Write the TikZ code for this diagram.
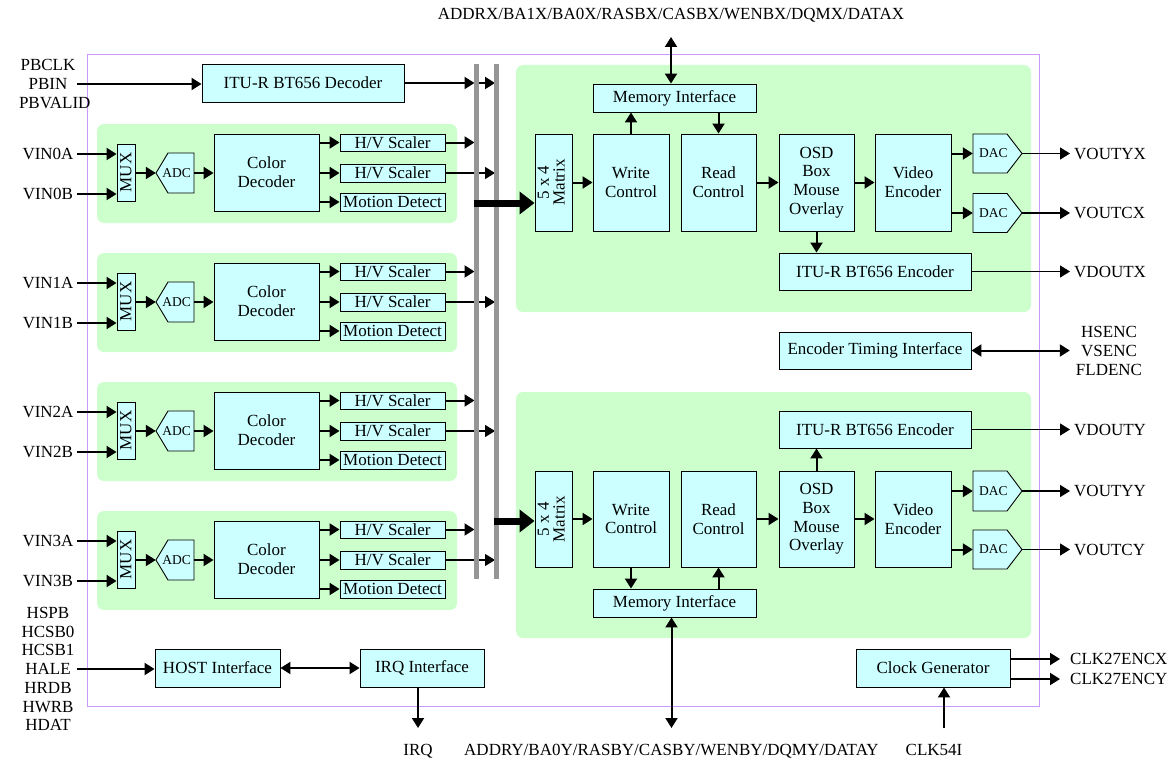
\documentclass[tikz,border=0pt]{standalone}
\usepackage{fontspec}
\usepackage{graphicx}
\setmainfont{Liberation Serif}
\usetikzlibrary{arrows.meta}
\definecolor{boxfill}{RGB}{204,255,255}
\definecolor{grp}{RGB}{204,255,204}
\definecolor{chipline}{RGB}{204,153,255}
\definecolor{busgray}{RGB}{150,150,150}
\newcommand\mainfs{\fontsize{17}{18.7}\selectfont}
\newcommand\smallfs{\fontsize{13.5}{15}\selectfont}
\begin{document}
\begin{tikzpicture}[x=1pt,y=-1pt,
  every node/.style={font=\mainfs},
  blk/.style={draw=black, line width=0.9pt, fill=boxfill, inner sep=0pt, align=center},
  grn/.style={fill=grp, rounded corners=7pt},
  arr/.style={line width=2pt, -{Triangle[length=10pt,width=12pt]}},
  tharr/.style={line width=1.4pt, -{Triangle[length=10pt,width=12pt]}},
  darr/.style={line width=2pt, {Triangle[length=10pt,width=12pt]}-{Triangle[length=10pt,width=12pt]}},
  tarr/.style={line width=7pt, -{Triangle[length=15pt,width=22pt]}},
  bus/.style={line width=5pt, draw=busgray},
  llbl/.style={text width=58pt, align=center, inner sep=0pt},
  rlbl/.style={anchor=west, inner xsep=4pt, inner ysep=0pt},
  toplbl/.style={anchor=south, inner sep=0pt, text height=12pt, text depth=3pt, outer ysep=14pt},
  botlbl/.style={anchor=north, inner sep=0pt, text height=12pt, text depth=3pt, outer ysep=15pt},
  dactxt/.style={inner sep=0pt, minimum width=49pt, minimum height=39pt, font=\smallfs}
]
\useasboundingbox (0,0) rectangle (1172,760);

% chip outline
\draw[chipline, line width=1pt] (87,55) rectangle (1039,706);

% green regions
\fill[grn] (516,65) rectangle (1031,312);
\fill[grn] (516,392) rectangle (1031,638);

% bus coordinates
\coordinate (b1t) at (476,64);
\coordinate (b1b) at (476,579);
\coordinate (b2t) at (496,64);
\coordinate (b2b) at (496,579);

% playback decoder
\node[blk, minimum width=202pt, minimum height=38pt] (dec) at (303,83) {ITU-R BT656 Decoder};
\node[llbl] (pb) at (48,84) {PBCLK\\PBIN\\PBVALID};
\draw[arr] (pb.east) -- (dec.west |- pb.east);
\draw[arr, shorten >=1.5pt] (dec.east) -- (dec.east -| b1t);
\draw[arr, shorten >=1pt] (dec.east -| b1t) -- (dec.east -| b2t);

% input channels
\foreach \i/\Y in {0/124,1/253,2/382,3/511}{
  \fill[grn] (97,\Y) rectangle (457,\Y+99);
  \node[blk, minimum width=18pt, minimum height=57pt] (mux\i) at (126,\Y+48.5) {\rotatebox{90}{MUX}};
  \draw[blk] (156,\Y+49) -- (168,\Y+29) -- (194,\Y+29) -- (194,\Y+69) -- (168,\Y+69) -- cycle;
  \node[inner sep=0pt, minimum width=38pt, minimum height=40pt, font=\smallfs] (adc\i) at (175,\Y+49) {\makebox[38pt][r]{ADC\hspace{3pt}}};
  \node[blk, minimum width=105pt, minimum height=77pt] (cd\i) at (266.5,\Y+48.5) {Color\\Decoder};
  \node[blk, minimum width=105pt, minimum height=17pt] (sa\i) at (392.5,\Y+18.5) {H/V Scaler};
  \node[blk, minimum width=105pt, minimum height=18pt] (sb\i) at (392.5,\Y+49) {H/V Scaler};
  \node[blk, minimum width=105pt, minimum height=18pt] (md\i) at (392.5,\Y+78) {Motion Detect};
  \node[llbl] (vina\i) at (48,\Y+30) {VIN\i A};
  \node[llbl] (vinb\i) at (48,\Y+70) {VIN\i B};
  \draw[arr] (vina\i.east) -- (mux\i.west |- vina\i.east);
  \draw[arr] (vinb\i.east) -- (mux\i.west |- vinb\i.east);
  \draw[arr] (mux\i.east |- adc\i.west) -- (adc\i.west);
  \draw[arr] (adc\i.east) -- (cd\i.west |- adc\i.east);
  \draw[arr] (cd\i.east |- sa\i.west) -- (sa\i.west);
  \draw[arr] (cd\i.east |- sb\i.west) -- (sb\i.west);
  \draw[arr] (cd\i.east |- md\i.west) -- (md\i.west);
  \draw[arr, shorten >=1.5pt] (sa\i.east) -- (sa\i.east -| b1t);
  \draw[tharr, shorten >=1pt] (sb\i.east) -- (sb\i.east -| b2t);
}

% ---------- upper output path (X)
\node[blk, minimum width=163pt, minimum height=28pt] (memx) at (674.5,98) {Memory Interface};
\node[blk, minimum width=37pt, minimum height=97pt] (matx) at (553.5,182.5) {\rotatebox{90}{\def\arraystretch{0.8}\begin{tabular}{@{}c@{}}5 x 4\\Matrix\end{tabular}}};
\node[blk, minimum width=76pt, minimum height=97pt] (wrx) at (631,182.5) {Write\\Control};
\node[blk, minimum width=75pt, minimum height=97pt] (rdx) at (718.5,182.5) {Read\\Control};
\node[blk, minimum width=75pt, minimum height=97pt] (osdx) at (816.5,182.5) {OSD\\Box\\Mouse\\Overlay};
\node[blk, minimum width=76pt, minimum height=97pt] (vex) at (913,182.5) {Video\\Encoder};
\draw[blk] (973,134) -- (1007,134) -- (1022,153.5) -- (1007,173) -- (973,173) -- cycle;
\node[dactxt] (dac1x) at (997.5,153.5) {\makebox[49pt][l]{\hspace{6pt}DAC}};
\draw[blk] (973,193.5) -- (1007,193.5) -- (1022,213) -- (1007,232.5) -- (973,232.5) -- cycle;
\node[dactxt] (dac2x) at (997.5,213) {\makebox[49pt][l]{\hspace{6pt}DAC}};
\node[blk, minimum width=192pt, minimum height=37pt] (encx) at (875,271.5) {ITU-R BT656 Encoder};

\node[toplbl] (addrx) at (671,37) {ADDRX/BA1X/BA0X/RASBX/CASBX/WENBX/DQMX/DATAX};
\node[rlbl] (voutyx) at (1070,154) {VOUTYX};
\node[rlbl] (voutcx) at (1070,213) {VOUTCX};
\node[rlbl] (vdoutx) at (1070,271.5) {VDOUTX};

\draw[darr] (addrx.south) -- (addrx.south |- memx.north);
\draw[arr] (wrx.north) -- (wrx.north |- memx.south);
\draw[arr] (memx.south -| rdx.north) -- (rdx.north);
\draw[arr] (matx.east |- wrx.west) -- (wrx.west);
\draw[arr] (rdx.east) -- (osdx.west);
\draw[arr] (osdx.east) -- (vex.west);
\draw[arr] (vex.east |- dac1x.west) -- (dac1x.west);
\draw[arr] (vex.east |- dac2x.west) -- (dac2x.west);
\draw[tharr] (dac1x.east) -- (voutyx.west |- dac1x.east);
\draw[tharr] (dac2x.east) -- (voutcx.west |- dac2x.east);
\draw[arr] (osdx.south) -- (osdx.south |- encx.north);
\draw[tharr] (encx.east) -- (vdoutx.west |- encx.east);

% encoder timing
\node[blk, minimum width=192pt, minimum height=37pt] (eti) at (875,350.5) {Encoder Timing Interface};
\node[text width=70pt, align=center, inner xsep=4pt, inner ysep=0pt] (hsenc) at (1109,351) {HSENC\\VSENC\\FLDENC};
\draw[darr] (eti.east) -- (hsenc.west |- eti.east);

% ---------- lower output path (Y)
\node[blk, minimum width=192pt, minimum height=37pt] (ency) at (875,429.5) {ITU-R BT656 Encoder};
\node[blk, minimum width=37pt, minimum height=96pt] (maty) at (553.5,519) {\rotatebox{90}{\def\arraystretch{0.8}\begin{tabular}{@{}c@{}}5 x 4\\Matrix\end{tabular}}};
\node[blk, minimum width=76pt, minimum height=96pt] (wry) at (631,519) {Write\\Control};
\node[blk, minimum width=75pt, minimum height=96pt] (rdy) at (718.5,519) {Read\\Control};
\node[blk, minimum width=75pt, minimum height=96pt] (osdy) at (816.5,519) {OSD\\Box\\Mouse\\Overlay};
\node[blk, minimum width=76pt, minimum height=96pt] (vey) at (913,519) {Video\\Encoder};
\draw[blk] (973,471) -- (1007,471) -- (1022,491) -- (1007,511) -- (973,511) -- cycle;
\node[dactxt] (dac1y) at (997.5,491) {\makebox[49pt][l]{\hspace{6pt}DAC}};
\draw[blk] (973,530) -- (1007,530) -- (1022,549.5) -- (1007,569) -- (973,569) -- cycle;
\node[dactxt] (dac2y) at (997.5,549.5) {\makebox[49pt][l]{\hspace{6pt}DAC}};
\node[blk, minimum width=163pt, minimum height=28pt] (memy) at (674.5,603) {Memory Interface};

\node[rlbl] (vdouty) at (1070,429.5) {VDOUTY};
\node[rlbl] (voutyy) at (1070,491) {VOUTYY};
\node[rlbl] (voutcy) at (1070,549.5) {VOUTCY};
\node[botlbl] (addry) at (671.5,728) {ADDRY/BA0Y/RASBY/CASBY/WENBY/DQMY/DATAY};

\draw[arr] (wry.south) -- (wry.south |- memy.north);
\draw[arr] (memy.north -| rdy.south) -- (rdy.south);
\draw[arr] (maty.east |- wry.west) -- (wry.west);
\draw[arr] (rdy.east) -- (osdy.west);
\draw[arr] (osdy.east) -- (vey.west);
\draw[arr] (vey.east |- dac1y.west) -- (dac1y.west);
\draw[arr] (vey.east |- dac2y.west) -- (dac2y.west);
\draw[tharr] (dac1y.east) -- (voutyy.west |- dac1y.east);
\draw[tharr] (dac2y.east) -- (voutcy.west |- dac2y.east);
\draw[arr] (osdy.north) -- (osdy.north |- ency.south);
\draw[tharr] (ency.east) -- (vdouty.west |- ency.east);
\draw[darr] (memy.south -| addry.north) -- (addry.north);

% ---------- host / irq
\node[blk, minimum width=125pt, minimum height=38pt] (host) at (217.5,668) {HOST Interface};
\node[blk, minimum width=124pt, minimum height=38pt] (irq) at (422,668) {IRQ Interface};
\node[llbl] (hspb) at (48,669) {HSPB\\HCSB0\\HCSB1\\HALE\\HRDB\\HWRB\\HDAT};
\node[botlbl] (irqlab) at (418,728) {IRQ};
\draw[arr] (hspb.east) -- (host.west |- hspb.east);
\draw[darr] (host.east) -- (irq.west);
\draw[arr] (irq.south -| irqlab.north) -- (irqlab.north);

% ---------- clock
\node[blk, minimum width=154pt, minimum height=38pt] (clk) at (933,668) {Clock Generator};
\node[anchor=west, inner xsep=10pt, inner ysep=0pt] (ck1) at (1060,659) {CLK27ENCX};
\node[anchor=west, inner xsep=10pt, inner ysep=0pt] (ck2) at (1060,679) {CLK27ENCY};
\draw[arr] (clk.east |- ck1.west) -- (ck1.west);
\draw[arr] (clk.east |- ck2.west) -- (ck2.west);
\node[botlbl] (clk54) at (934,728) {CLK54I};
\coordinate (ckin) at (944,728);
\draw[arr] (ckin) -- (ckin |- clk.south);

% bus bars
\draw[bus] (b1t) -- (b1b);
\draw[bus] (b2t) -- (b2b);

% thick matrix feeds (on top of bars)
\coordinate (t1) at (473.5,203);
\draw[tarr] (t1) -- (t1 -| matx.west);
\coordinate (t2) at (493.5,521);
\draw[tarr] (t2) -- (t2 -| maty.west);
\end{tikzpicture}
\end{document}
